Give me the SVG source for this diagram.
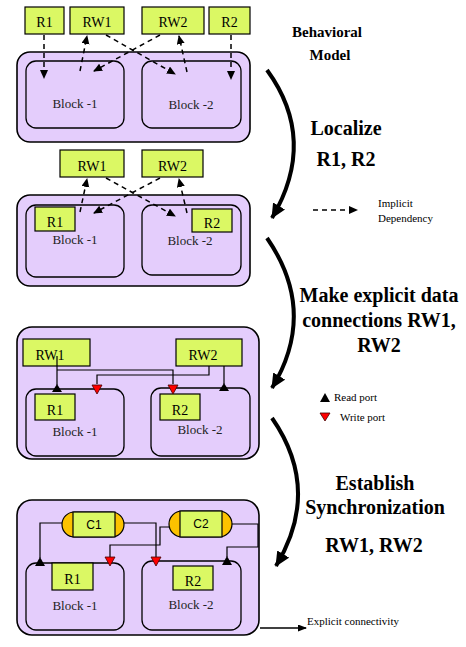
<svg xmlns="http://www.w3.org/2000/svg" width="466" height="647" viewBox="0 0 466 647">
<defs>
<style>
.outer{fill:#e4cdfc;stroke:#000;stroke-width:1.6}
.block{fill:#e4cdfc;stroke:#000;stroke-width:1.3}
.reg{fill:#dbf864;stroke:#000;stroke-width:1.2}
.cap{fill:#fcc200;stroke:#000;stroke-width:1.2}
.t{font-family:"Liberation Serif",serif;font-size:14px;fill:#000;text-anchor:middle}
.tb{font-family:"Liberation Serif",serif;font-size:13px;fill:#222;text-anchor:middle}
.ts{font-family:"Liberation Sans",Arial,sans-serif;font-size:12px;fill:#000;text-anchor:middle}
.h{font-family:"Liberation Serif",serif;font-weight:bold;font-size:20px;fill:#000;text-anchor:middle}
.h2{font-family:"Liberation Serif",serif;font-weight:bold;font-size:15px;fill:#000;text-anchor:middle}
.lg{font-family:"Liberation Serif",serif;font-size:11px;fill:#000}
.dash{fill:none;stroke:#000;stroke-width:1.5;stroke-dasharray:5,4;marker-end:url(#ah)}
.wire{fill:none;stroke:#000;stroke-width:1.2}
.big{fill:none;stroke:#000;stroke-width:4;marker-end:url(#bh)}
.rp{fill:#000}
.wp{fill:#f00;stroke:#400;stroke-width:0.8}
</style>
<marker id="ah" markerWidth="10" markerHeight="10" refX="8" refY="4" orient="auto" markerUnits="userSpaceOnUse">
<path d="M0,0 L9,4 L0,8 Z" fill="#000"/>
</marker>
<marker id="bh" markerWidth="20" markerHeight="20" refX="14" refY="7" orient="auto" markerUnits="userSpaceOnUse">
<path d="M0,0 L15,7 L0,14 Z" fill="#000"/>
</marker>
<marker id="sh" markerWidth="10" markerHeight="10" refX="8" refY="3.5" orient="auto" markerUnits="userSpaceOnUse">
<path d="M0,0 L9,3.5 L0,7 Z" fill="#000"/>
</marker>
</defs>
<rect width="466" height="647" fill="#fff"/>

<!-- Stage 1 -->
<g id="stage1">
<rect class="outer" x="17" y="52" width="233" height="90" rx="13"/>
<g id="s1-block1"><rect class="block" x="26" y="61" width="98" height="67" rx="10"/><text class="tb" x="75" y="108">Block -1</text></g>
<g id="s1-block2"><rect class="block" x="142" y="61" width="99" height="67" rx="10"/><text class="tb" x="191" y="109">Block -2</text></g>
<g id="s1-R1"><rect class="reg" x="25" y="7" width="39" height="27"/><text class="t" x="44.5" y="27">R1</text></g>
<g id="s1-RW1"><rect class="reg" x="70" y="7" width="54" height="27"/><text class="t" x="97" y="27">RW1</text></g>
<g id="s1-RW2"><rect class="reg" x="142" y="7" width="62" height="27"/><text class="t" x="173" y="27">RW2</text></g>
<g id="s1-R2"><rect class="reg" x="209" y="7" width="41" height="27"/><text class="t" x="229.5" y="27">R2</text></g>
</g>

<!-- Stage 2 -->
<g id="stage2">
<rect class="outer" x="17" y="195" width="233" height="91" rx="13"/>
<g id="s2-block1"><rect class="block" x="26" y="205" width="98" height="72" rx="10"/><text class="tb" x="75" y="244">Block -1</text></g>
<g id="s2-block2"><rect class="block" x="142" y="205" width="99" height="70" rx="10"/><text class="tb" x="190" y="245">Block -2</text></g>
<g id="s2-R1"><rect class="reg" x="35" y="207" width="40" height="24"/><text class="t" x="55" y="227">R1</text></g>
<g id="s2-R2"><rect class="reg" x="192" y="209" width="40" height="23"/><text class="t" x="212" y="228">R2</text></g>
<g id="s2-RW1"><rect class="reg" x="60" y="150" width="64" height="27"/><text class="t" x="92" y="171">RW1</text></g>
<g id="s2-RW2"><rect class="reg" x="142" y="150" width="61" height="27"/><text class="t" x="172.5" y="171">RW2</text></g>
</g>

<!-- Stage 3 -->
<g id="stage3">
<rect class="outer" x="17" y="327" width="242" height="132" rx="15"/>
<g id="s3-block1"><rect class="block" x="26" y="389" width="98" height="67" rx="10"/><text class="tb" x="75" y="436">Block -1</text></g>
<g id="s3-block2"><rect class="block" x="151" y="388" width="99" height="68" rx="10"/><text class="tb" x="200" y="434">Block -2</text></g>
<g id="s3-R1"><rect class="reg" x="35" y="394" width="40" height="26"/><text class="t" x="55" y="415">R1</text></g>
<g id="s3-R2"><rect class="reg" x="160" y="394" width="40" height="26"/><text class="t" x="180" y="415">R2</text></g>
<g id="s3-RW1"><rect class="reg" x="23" y="339" width="67" height="27"/><text class="t" x="50" y="360">RW1</text></g>
<g id="s3-RW2"><rect class="reg" x="176" y="339" width="66" height="27"/><text class="t" x="203" y="360">RW2</text></g>
</g>

<!-- Stage 4 -->
<g id="stage4">
<rect class="outer" x="17" y="500" width="242" height="135" rx="15"/>
<g id="s4-block1"><rect class="block" x="26" y="563" width="98" height="67" rx="10"/><text class="tb" x="75" y="610">Block -1</text></g>
<g id="s4-block2"><rect class="block" x="142" y="561" width="99" height="69" rx="10"/><text class="tb" x="191" y="609">Block -2</text></g>
<g id="s4-R1"><rect class="reg" x="52" y="563" width="41" height="27"/><text class="t" x="72.5" y="584">R1</text></g>
<g id="s4-R2"><rect class="reg" x="173" y="566" width="40" height="24"/><text class="t" x="193" y="586">R2</text></g>
<g id="s4-C1"><rect class="cap" x="62" y="512" width="62" height="25" rx="12.5"/><rect class="reg" x="73" y="512" width="42" height="25"/><text class="ts" x="94" y="529">C1</text></g>
<g id="s4-C2"><rect class="cap" x="169" y="511" width="63" height="26" rx="13"/><rect class="reg" x="180" y="511" width="42" height="26"/><text class="ts" x="201" y="528">C2</text></g>
</g>

<!-- Connectors -->
<g id="connectors">
<!-- stage 1 implicit -->
<path class="dash" d="M44,35 L44,78"/>
<path class="dash" d="M80,71 L87,36"/>
<path class="dash" d="M106,35 L175,74"/>
<path class="dash" d="M160,35 L94,71"/>
<path class="dash" d="M187,72 L179,36"/>
<path class="dash" d="M231,35 L231,79"/>
<!-- stage 2 implicit -->
<path class="dash" d="M80,212 L87,179"/>
<path class="dash" d="M106,178 L175,216"/>
<path class="dash" d="M160,178 L94,213"/>
<path class="dash" d="M187,213 L179,179"/>
<!-- stage 3 explicit -->
<path class="wire" d="M57,356 L57,385"/>
<path class="wire" d="M57,370 L173,370 L173,384"/>
<path class="wire" d="M209,366 L209,375 L97,375 L97,384"/>
<path class="wire" d="M224,366 L224,384"/>
<path class="rp" d="M52,392 L57,384 L62,392 Z"/>
<path class="wp" d="M92,385 L102,385 L97,394 Z"/>
<path class="wp" d="M168,385 L178,385 L173,394 Z"/>
<path class="rp" d="M219,391 L224,383 L229,391 Z"/>
<!-- stage 4 explicit -->
<path class="wire" d="M62,523 L40,523 L40,558"/>
<path class="wire" d="M124,523 L156,523 L156,557"/>
<path class="wire" d="M169,527 L160,527 L160,545 L110,545 L110,557"/>
<path class="wire" d="M232,524 L258,524 L258,547 L227,547 L227,557"/>
<path class="rp" d="M35,566 L40,557 L45,566 Z"/>
<path class="wp" d="M105,557 L115,557 L110,566 Z"/>
<path class="wp" d="M151,557 L161,557 L156,566 Z"/>
<path class="rp" d="M222,565 L227,556 L232,565 Z"/>
<!-- transition arrows -->
<path class="big" d="M267,70 Q318,140 272,218"/>
<path class="big" d="M267,238 Q318,312 272,388"/>
<path class="big" d="M272,418 Q322,490 276,566"/>
</g>

<!-- Labels -->
<g id="labels">
<text class="h2" x="327" y="37">Behavioral</text>
<text class="h2" x="330" y="60">Model</text>
<text class="h" x="346" y="135">Localize</text>
<text class="h" x="346" y="166">R1, R2</text>
<text class="h" x="379" y="302">Make explicit data</text>
<text class="h" x="379" y="327">connections RW1,</text>
<text class="h" x="379" y="352">RW2</text>
<text class="h" x="375" y="490">Establish</text>
<text class="h" x="375" y="514">Synchronization</text>
<text class="h" x="374" y="552">RW1, RW2</text>
</g>

<!-- Legend -->
<g id="legend">
<path class="dash" d="M313,210 L357,210"/>
<text class="lg" x="378" y="207">Implicit</text>
<text class="lg" x="378" y="222">Dependency</text>
<path class="rp" d="M320,402 L325,393 L330,402 Z"/>
<text class="lg" x="334" y="401">Read port</text>
<path class="wp" d="M320,413 L330,413 L325,421 Z"/>
<text class="lg" x="340" y="421">Write port</text>
<path d="M260,628 L306,628" stroke="#000" stroke-width="1.3" marker-end="url(#sh)"/>
<text class="lg" x="307" y="625">Explicit connectivity</text>
</g>
</svg>
